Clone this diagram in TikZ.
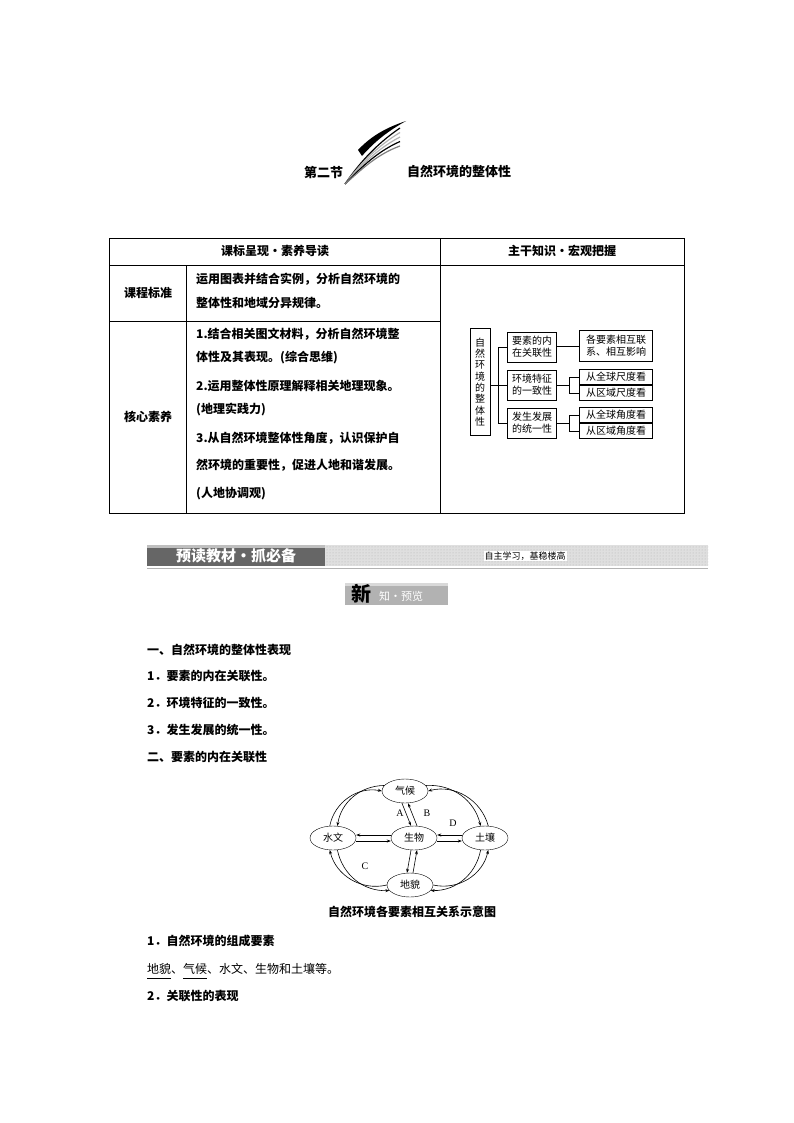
\documentclass[tikz,border=0pt]{standalone}
\usepackage{fontspec}
\setmainfont{Noto Sans CJK SC}
\newfontfamily\lat{Liberation Serif}
\usetikzlibrary{shapes.geometric,arrows.meta,patterns}
\begin{document}
\begin{tikzpicture}[x=1pt,y=-1pt,
  bt/.style={font=\fontsize{12}{14}\selectfont,anchor=west,inner sep=0},
  bb/.style={font=\fontsize{12}{14}\selectfont\bfseries,anchor=west,inner sep=0},
  tb/.style={draw,thick,inner sep=1pt,font=\fontsize{10}{12}\selectfont,align=center},
  el/.style={draw,ellipse,minimum width=46,minimum height=24,inner sep=0,font=\fontsize{10}{12}\selectfont},
  ar/.style={-{Stealth[length=4pt,width=3pt]},semithick}]
\useasboundingbox[fill=white] (0,0) rectangle (794,1123);
% title swoosh
\fill (358,150) .. controls (372,135) and (388,127) .. (406,121) .. controls (390,130) and (376,140) .. (362,156) -- cycle;
\foreach \o/\c in {0/black,5/gray!60,10/gray!60,15/black,20/gray}{
  \draw[\c,line width=1.2pt] (345,184) .. controls (358,165+\o*0.4) and (375,145+\o*0.5) .. (400,128+\o*0.9);}
\node[bb,font=\fontsize{13}{14}\selectfont\bfseries] (t1) at (304,172) {第二节};
\node[bb,font=\fontsize{13}{14}\selectfont\bfseries] (t2) at (407,172) {自然环境的整体性};
% table
\draw[thick] (109,238) rectangle (684,513);
\draw (109,265) -- (684,265);
\draw (440,238) -- (440,513);
\draw (186,265) -- (186,513);
\draw (109,321) -- (440,321);
\node[bb,anchor=center] (h1) at (275,251) {课标呈现·素养导读};
\node[bb,anchor=center] (h2) at (562,251) {主干知识·宏观把握};
\node[bb,anchor=center] (c1) at (148,293) {课程标准};
\node[bb,anchor=center] (c2) at (148,417) {核心素养};
\node[bb] (r1) at (196,279) {运用图表并结合实例，分析自然环境的};
\node[bb] (r2) at (196,303) {整体性和地域分异规律。};
\node[bb] (s1) at (196,334) {1.结合相关图文材料，分析自然环境整};
\node[bb] (s2) at (196,358) {体性及其表现。(综合思维)};
\node[bb] (s3) at (196,386) {2.运用整体性原理解释相关地理现象。};
\node[bb] (s4) at (196,410) {(地理实践力)};
\node[bb] (s5) at (196,438) {3.从自然环境整体性角度，认识保护自};
\node[bb] (s6) at (196,465) {然环境的重要性，促进人地和谐发展。};
\node[bb] (s7) at (196,494) {(人地协调观)};
% tree
\node[tb,minimum width=20,minimum height=107,font=\fontsize{10}{11.3}\selectfont] (root) at (480,382) {自\\然\\环\\境\\的\\整\\体\\性};
\node[tb,minimum width=49,minimum height=30] (m1) at (532,347) {要素的内\\在关联性};
\node[tb,minimum width=49,minimum height=30] (m2) at (532,385) {环境特征\\的一致性};
\node[tb,minimum width=49,minimum height=30] (m3) at (532,423) {发生发展\\的统一性};
\node[tb,minimum width=73,minimum height=31] (a1) at (616,346) {各要素相互联\\系、相互影响};
\node[tb,minimum width=73,minimum height=15] (a2) at (616,377) {从全球尺度看};
\node[tb,minimum width=73,minimum height=15] (a3) at (616,393) {从区域尺度看};
\node[tb,minimum width=73,minimum height=15] (a4) at (616,415) {从全球角度看};
\node[tb,minimum width=73,minimum height=15] (a5) at (616,431) {从区域角度看};
\coordinate (j0) at (498,385);
\draw (root.east|-j0) -- (j0);
\draw (498,347) -- (498,423);
\draw (498,347) -- (m1.west); \draw (498,385) -- (m2.west); \draw (498,423) -- (m3.west);
\draw (m1.east|-a1.west) -- (a1.west);
\draw (m2.east) -- (569,385); \draw (569,377) -- (569,393);
\draw (569,377) -- (a2.west); \draw (569,393) -- (a3.west);
\draw (m3.east) -- (569,423); \draw (569,415) -- (569,431);
\draw (569,415) -- (a4.west); \draw (569,431) -- (a5.west);
% banner
\fill[gray!25] (325,545) rectangle (708,566);
\fill[pattern=dots,pattern color=gray!60] (325,545) rectangle (708,566);
\fill[gray!80!black] (147,545) rectangle (325,566);
\fill[gray!50] (147,545) rectangle (325,548);
\node[font=\fontsize{15}{16}\selectfont\bfseries,text=white,inner sep=0] (bn) at (236,556) {预读教材·抓必备};
\node[fill=white,inner sep=1pt,font=\fontsize{9}{10}\selectfont] (bs) at (525,556) {自主学习，基稳楼高};
\draw[gray!60,thick] (147,568) -- (708,568);
\fill[gray!60] (345,583) rectangle (448,605);
\fill[gray!30] (345,583) rectangle (448,586);
\node[font=\fontsize{20}{20}\selectfont\bfseries,text=black,inner sep=0] (xin) at (361,594) {新};
\node[font=\fontsize{11}{12}\selectfont,text=white,inner sep=0,anchor=west] (zy) at (379,596) {知·预览};
% paragraphs
\node[bb] (p1) at (147,650) {一、自然环境的整体性表现};
\node[bb] (p2) at (147,676) {1．要素的内在关联性。};
\node[bb] (p3) at (147,703) {2．环境特征的一致性。};
\node[bb] (p4) at (147,730) {3．发生发展的统一性。};
\node[bb] (p5) at (147,757) {二、要素的内在关联性};
% cycle
\node[el] (qh) at (405,791) {气候};
\node[el] (sw) at (333,838) {水文};
\node[el] (sh) at (414,838) {生物};
\node[el] (tr) at (485,838) {土壤};
\node[el] (dm) at (410,885) {地貌};
\begin{scope}[font=\lat\fontsize{10}{12}\selectfont]
\node (lA) at (400,813) {A}; \node (lB) at (427,813) {B};
\node (lD) at (453,823) {D}; \node (lC) at (365,866) {C};
\end{scope}
\draw[ar] ([xshift=-3]qh.south) -- ([xshift=-3]sh.north);
\draw[ar] ([xshift=3]sh.north) -- ([xshift=3]qh.south);
\draw[ar] ([xshift=-3]sh.south) -- ([xshift=-3]dm.north);
\draw[ar] ([xshift=3]dm.north) -- ([xshift=3]sh.south);
\draw[ar] ([yshift=-3]sw.east) -- ([yshift=-3]sh.west);
\draw[ar] ([yshift=3]sh.west) -- ([yshift=3]sw.east);
\draw[ar] ([yshift=-3]sh.east) -- ([yshift=-3]tr.west);
\draw[ar] ([yshift=3]tr.west) -- ([yshift=3]sh.east);
\draw[ar] (qh.165) to[bend right=40] (sw.70);
\draw[ar] (sw.105) to[bend left=45] (qh.180);
\draw[ar] (qh.15) to[bend left=40] (tr.110);
\draw[ar] (tr.75) to[bend right=45] (qh.0);
\draw[ar] (sw.290) to[bend right=40] (dm.195);
\draw[ar] (dm.180) to[bend left=45] (sw.255);
\draw[ar] (tr.250) to[bend left=40] (dm.345);
\draw[ar] (dm.0) to[bend right=45] (tr.285);
\node[bb,anchor=center] (cap) at (412,912) {自然环境各要素相互关系示意图};
\node[bb] (q1) at (147,941) {1．自然环境的组成要素};
\node[bt] (q2) at (147,969) {地貌、气候、水文、生物和土壤等。};
\draw (147,978) -- (171,978); \draw (183,978) -- (207,978);
\node[bb] (q3) at (147,996) {2．关联性的表现};
\end{tikzpicture}
\end{document}
